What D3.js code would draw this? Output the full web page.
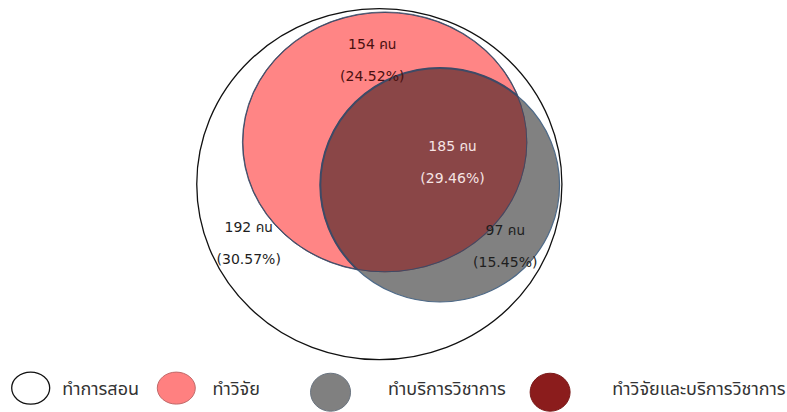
<!DOCTYPE html>
<html><head><meta charset="utf-8">
<script src="https://cdn.jsdelivr.net/npm/d3@7/dist/d3.min.js"></script>
<style>
html,body{margin:0;padding:0;background:#fff;}
svg text{font-family:Tahoma,"DejaVu Sans","Noto Sans Thai","Noto Sans",sans-serif;}
</style></head>
<body>
<svg id="chart" width="787" height="412"></svg>
<script>
// ---- data ----
const categories = ["ทำการสอน", "ทำวิจัย", "ทำบริการวิชาการ", "ทำวิจัยและบริการวิชาการ"];
const regionLabels = ["192 คน", "154 คน", "97 คน", "185 คน"];
const regionCounts = [192, 154, 97, 185];
const regionPercents = ["(30.57%)", "(24.52%)", "(15.45%)", "(29.46%)"];
const legendColors = ["#ffffff", "#ff8080", "#808080", "#8b1c1c"];

// ---- layout (abstract units, mapped through scales) ----
const sx = d3.scaleLinear().domain([0, 100]).range([0, 787]);
const sy = d3.scaleLinear().domain([0, 100]).range([0, 412]);
const shapes = [
  {cx: 48.2, cy: 44.7, rx: 23.2, ry: 42.6},   // teaching (outer)
  {cx: 48.9, cy: 34.5, rx: 18.1, ry: 31.6},   // research
  {cx: 55.9, cy: 44.9, rx: 15.2, ry: 28.4}    // service
];
const labelPos = [
  {x: 31.6, y: 56.4}, {x: 47.3, y: 12.0}, {x: 64.2, y: 57.0}, {x: 57.5, y: 36.6}
];
const labelColors = ["#1e1e1e", "#4a1010", "#1e1e1e", "#f6e4e4"];

const svg = d3.select("#chart");
const rxs = d => sx(d.rx), rys = d => sy(d.ry);

const defs = svg.append("defs");
defs.append("clipPath").attr("id", "clipResearch")
  .append("ellipse")
  .attr("cx", sx(shapes[1].cx)).attr("cy", sy(shapes[1].cy))
  .attr("rx", rxs(shapes[1])).attr("ry", rys(shapes[1]));

svg.append("ellipse")
  .attr("cx", sx(shapes[0].cx)).attr("cy", sy(shapes[0].cy))
  .attr("rx", rxs(shapes[0])).attr("ry", rys(shapes[0]))
  .attr("fill", "#fff").attr("stroke", "#111").attr("stroke-width", 1.3);
svg.append("ellipse")
  .attr("cx", sx(shapes[1].cx)).attr("cy", sy(shapes[1].cy))
  .attr("rx", rxs(shapes[1])).attr("ry", rys(shapes[1]))
  .attr("fill", "#ff8585").attr("stroke", "#5d6f86").attr("stroke-width", 1);
svg.append("ellipse")
  .attr("cx", sx(shapes[2].cx)).attr("cy", sy(shapes[2].cy))
  .attr("rx", rxs(shapes[2])).attr("ry", rys(shapes[2]))
  .attr("fill", "#818181").attr("stroke", "#4e6a88").attr("stroke-width", 1.2);
svg.append("ellipse")
  .attr("clip-path", "url(#clipResearch)")
  .attr("cx", sx(shapes[2].cx)).attr("cy", sy(shapes[2].cy))
  .attr("rx", rxs(shapes[2])).attr("ry", rys(shapes[2]))
  .attr("fill", "#8a4647").attr("stroke", "#3e4a66").attr("stroke-width", 2);
svg.append("ellipse")
  .attr("clip-path", "url(#clipResearch)")
  .attr("cx", sx(shapes[1].cx)).attr("cy", sy(shapes[1].cy))
  .attr("rx", rxs(shapes[1])).attr("ry", rys(shapes[1]))
  .attr("fill", "none").attr("stroke", "#3e4a66").attr("stroke-width", 2);

// labels
const lab = svg.append("g").selectAll("g").data(regionCounts).join("g")
  .attr("transform", (d, i) => `translate(${sx(labelPos[i].x)},${sy(labelPos[i].y)})`)
  .attr("fill", (d, i) => labelColors[i])
  .attr("font-size", 14).attr("text-anchor", "middle");
lab.append("text").attr("y", 0).text((d, i) => regionLabels[i]);
lab.append("text").attr("y", 32).text((d, i) => regionPercents[i]);

// legend
const legendX = [3.9, 22.4, 42.0, 69.9];
const legendTextX = [7.9, 27.0, 49.3, 77.8];
const legendY = [94.2, 94.2, 95.2, 95.2];
const legendR = [[19, 16], [19, 16], [20, 19], [20, 19]];
const lg = svg.append("g").selectAll("g").data(categories).join("g");
lg.append("ellipse")
  .attr("cx", (d, i) => sx(legendX[i])).attr("cy", (d, i) => sy(legendY[i]))
  .attr("rx", (d, i) => legendR[i][0]).attr("ry", (d, i) => legendR[i][1])
  .attr("fill", (d, i) => legendColors[i])
  .attr("stroke", (d, i) => i === 0 ? "#111" : i === 1 ? "#c06a6a" : i === 2 ? "#6a7480" : "#7a1a1a")
  .attr("stroke-width", (d, i) => i === 0 ? 1.3 : 1);
lg.append("text")
  .attr("x", (d, i) => sx(legendTextX[i])).attr("y", 395)
  .attr("font-size", 18).attr("fill", "#333")
  .text(d => d);
</script>
</body></html>
